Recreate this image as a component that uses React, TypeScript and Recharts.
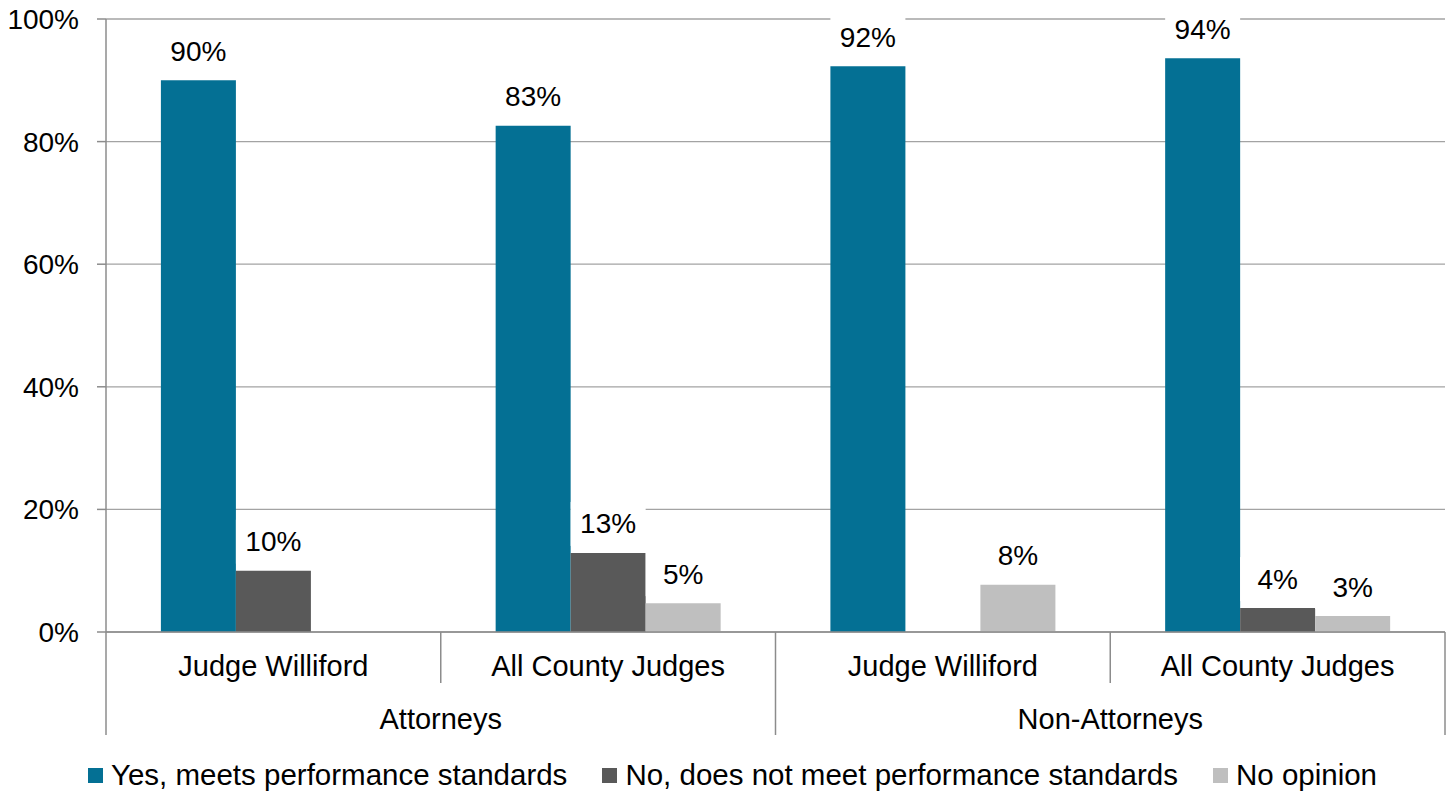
import { BarChart, Bar, XAxis, YAxis, CartesianGrid, Legend, LabelList } from "recharts";

const SUBCATEGORIES = ["Judge Williford", "All County Judges", "Judge Williford", "All County Judges"];
const GROUPS = ["Attorneys", "Attorneys", "Non-Attorneys", "Non-Attorneys"];
const YES = [90, 82.6, 92.3, 93.6];
const NO = [10, 12.9, 0, 3.9];
const NO_OPINION = [0, 4.7, 7.7, 2.6];
const Y_TICKS = [0, 20, 40, 60, 80, 100];

const SERIES = [
    { key: "yes", name: "Yes, meets performance standards", color: "#047094" },
    { key: "no", name: "No, does not meet performance standards", color: "#595959" },
    { key: "none", name: "No opinion", color: "#bfbfbf" },
];

const data = SUBCATEGORIES.map((sub, i) => ({
    sub,
    group: GROUPS[i],
    yes: YES[i],
    no: NO[i],
    none: NO_OPINION[i],
}));

const FONT = "'Liberation Sans', Arial, sans-serif";
const AXIS = "#8c8c8c";

const ValueLabel = (props: any) => {
    const { x, y, width, value } = props;
    if (!value) return null;
    const bottom = y - 7;
    return (
        <g>
            <rect x={x} y={bottom - 44} width={width} height={44} fill="#fff" />
            <text
                x={x + width / 2}
                y={bottom - 22}
                textAnchor="middle"
                dominantBaseline="central"
                fontSize={28}
                fontFamily={FONT}
                fill="#000"
            >
                {Math.round(value)}%
            </text>
        </g>
    );
};

const CategoryTick = (props: any) => {
    const { x, y, payload } = props;
    const i = payload.index;
    const half = payload.offset || 167.4;
    const isGroupStart = i === 0 || i === 2;
    return (
        <g>
            <line x1={x - half} x2={x - half} y1={y} y2={y + (isGroupStart ? 103 : 51)} stroke={AXIS} strokeWidth={1.5} />
            {i === SUBCATEGORIES.length - 1 && (
                <line x1={x + half} x2={x + half} y1={y} y2={y + 103} stroke={AXIS} strokeWidth={1.5} />
            )}
            <text x={x} y={y + 34} textAnchor="middle" dominantBaseline="central" fontSize={29} fontFamily={FONT} fill="#000">
                {payload.value}
            </text>
            {isGroupStart && (
                <text x={x + half} y={y + 87} textAnchor="middle" dominantBaseline="central" fontSize={29} fontFamily={FONT} fill="#000">
                    {GROUPS[i]}
                </text>
            )}
        </g>
    );
};

const LegendContent = () => (
    <div
        style={{
            height: 59,
            paddingTop: 24,
            paddingLeft: 20,
            boxSizing: "border-box",
            display: "flex",
            justifyContent: "center",
            gap: 35,
            fontFamily: FONT,
            fontSize: 29.5,
            color: "#000",
        }}
    >
        {SERIES.map((s) => (
            <div key={s.key} style={{ display: "flex", alignItems: "center", gap: 8, height: 32 }}>
                <div style={{ width: 15, height: 15, backgroundColor: s.color }} />
                <span>{s.name}</span>
            </div>
        ))}
    </div>
);

const App = () => {
    return (
        <div style={{ position: "absolute", left: 0, top: 0, background: "#fff" }}>
            <BarChart
                width={1452}
                height={794}
                data={data}
                margin={{ top: 19, right: 7, left: 0, bottom: 0 }}
                barCategoryGap="16.4%"
                barGap={0}
            >
                <CartesianGrid horizontal vertical={false} stroke="#a3a3a3" strokeWidth={1.3} />
                <YAxis
                    width={106}
                    domain={[0, 100]}
                    ticks={Y_TICKS}
                    tickFormatter={(v) => `${v}%`}
                    tick={{ fontSize: 28, fontFamily: FONT, fill: "#000" }}
                    tickSize={9}
                    tickMargin={18}
                    tickLine={{ stroke: AXIS, strokeWidth: 1.5 }}
                    axisLine={{ stroke: AXIS, strokeWidth: 1.5 }}
                />
                <XAxis
                    dataKey="sub"
                    height={103}
                    interval={0}
                    tickSize={0}
                    tickMargin={0}
                    tickLine={false}
                    axisLine={{ stroke: AXIS, strokeWidth: 1.5 }}
                    tick={<CategoryTick />}
                />
                <Legend verticalAlign="bottom" content={<LegendContent />} />
                {SERIES.map((s) => (
                    <Bar key={s.key} dataKey={s.key} name={s.name} fill={s.color} isAnimationActive={false}>
                        <LabelList dataKey={s.key} content={<ValueLabel />} />
                    </Bar>
                ))}
            </BarChart>
        </div>
    );
};

export default App;
